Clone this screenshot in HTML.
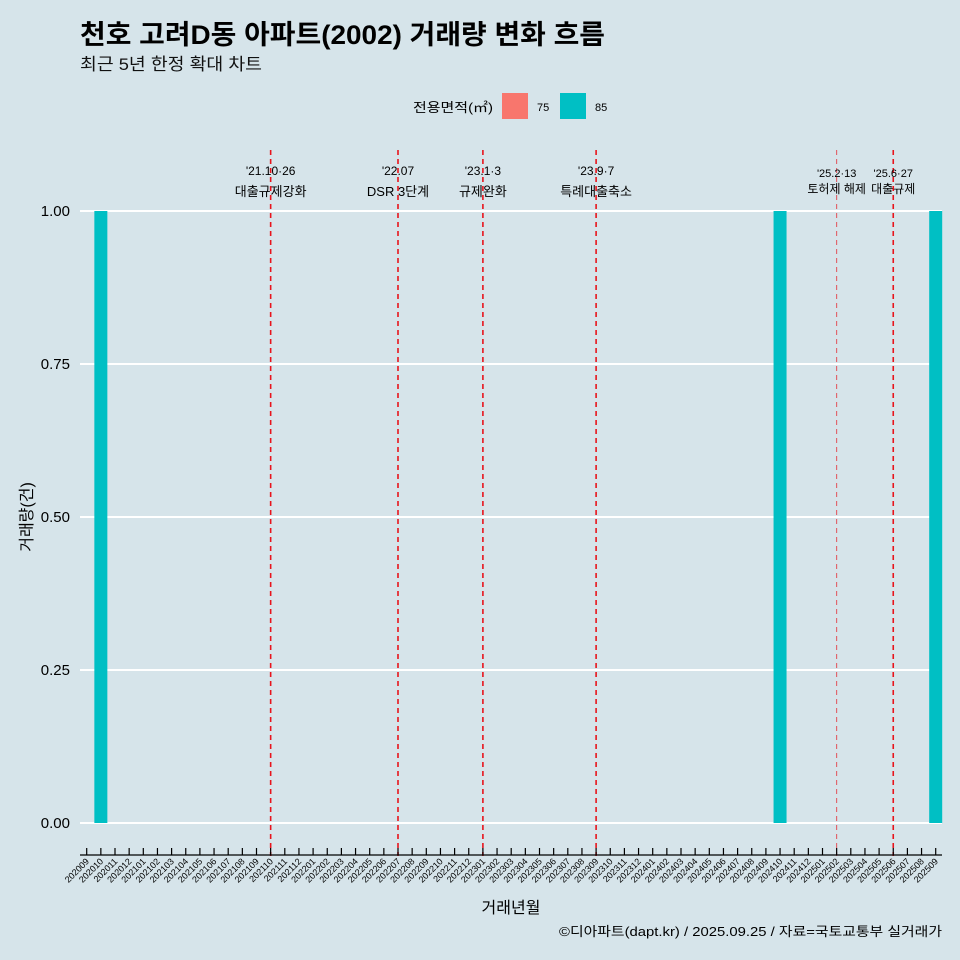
<!DOCTYPE html>
<html><head><meta charset="utf-8"><style>
html,body{margin:0;padding:0;width:960px;height:960px;overflow:hidden;background:#d6e4ea;font-family:"Liberation Sans","Noto Sans CJK KR",sans-serif;}
svg{display:block}
svg text{font-family:"Liberation Sans","Noto Sans CJK KR",sans-serif;}
</style></head><body>
<svg id="c" width="960" height="960" xmlns="http://www.w3.org/2000/svg">
<rect width="960" height="960" fill="#d6e4ea"/>
<text x="80" y="44" font-size="27" font-weight="bold" fill="#000" textLength="525" lengthAdjust="spacingAndGlyphs">천호 고려D동 아파트(2002) 거래량 변화 흐름</text>
<text x="80" y="70" font-size="17" fill="#111" textLength="182" lengthAdjust="spacingAndGlyphs">최근 5년 한정 확대 차트</text>
<g>
<text x="413" y="112" font-size="13" textLength="80" lengthAdjust="spacingAndGlyphs">전용면적(㎡)</text>
<rect x="502" y="93" width="26" height="26" fill="#f8766d"/>
<text x="537" y="111" font-size="11">75</text>
<rect x="560" y="93" width="26" height="26" fill="#00bfc4"/>
<text x="595" y="111" font-size="11">85</text>
</g>
<g id="grid"></g><g id="bars"></g><g id="events"></g><g id="xaxis"></g>
<text x="32" y="517" font-size="16" transform="rotate(-90 32 517)" text-anchor="middle">거래량(건)</text>
<text x="511" y="913" font-size="16" text-anchor="middle">거래년월</text>
<text x="559" y="936" font-size="13" textLength="383" lengthAdjust="spacingAndGlyphs">©디아파트(dapt.kr) / 2025.09.25 / 자료=국토교통부 실거래가</text>
</svg>
<script>
const months=[];for(let y=2020,m=9;!(y===2025&&m===10);){months.push(y+String(m).padStart(2,'0'));m++;if(m>12){m=1;y++;}}
const barMonths=["202010","202410","202509"];
const barValues=[1,1,1];
const yTicks=[0,0.25,0.5,0.75,1];
const yTickLabels=["0.00","0.25","0.50","0.75","1.00"];
const eventMonths=["202110","202207","202301","202309","202502","202506"];
const eventLine1=["'21.10·26","'22.07","'23.1·3","'23.9·7","'25.2·13","'25.6·27"];
const eventLine2=["대출규제강화","DSR 3단계","규제완화","특례대출축소","토허제 해제","대출규제"];
const NS="http://www.w3.org/2000/svg";
const xs=i=>86.7+i*14.15;
const ys=v=>823-v*612;
function mk(t,a,p){const e=document.createElementNS(NS,t);for(const k in a)e.setAttribute(k,a[k]);p.appendChild(e);return e;}
const grid=document.getElementById('grid');
yTicks.forEach((v,i)=>{
 const l=mk('line',{x1:80,x2:942,y1:ys(v),y2:ys(v),stroke:'#fff','stroke-width':2},grid);
 
 
 const t=mk('text',{x:70,y:ys(v)+5,'font-size':15,'text-anchor':'end'},grid);t.textContent=yTickLabels[i];
 
 
});
const bars=document.getElementById('bars');
barMonths.forEach((m,i)=>{
 const x=xs(months.indexOf(m));
 const r=mk('rect',{x:x-6.5,y:ys(barValues[i]),width:13,height:ys(0)-ys(barValues[i]),fill:'#00bfc4'},bars);
 
 
});
const ev=document.getElementById('events');
eventMonths.forEach((m,i)=>{
 const x=xs(months.indexOf(m));const thin=m==="202502";
 const l=mk('line',{x1:x,x2:x,y1:150,y2:856,stroke:'#e8141c','stroke-width':thin?1:1.6,'stroke-dasharray':'5,4',opacity:thin?0.7:1},ev);
 
 
 const small=m>="202502";
 const t1=mk('text',{x:x,y:small?177:175,'font-size':small?11:12,'text-anchor':'middle'},ev);t1.textContent=eventLine1[i];
 
 
 const t2=mk('text',{x:x,y:small?193:196,'font-size':small?12:13,'text-anchor':'middle'},ev);t2.textContent=eventLine2[i];
 
 
});
const xa=document.getElementById('xaxis');
const ax=mk('line',{x1:80,x2:942,y1:855,y2:855,stroke:'#000','stroke-width':1.2},xa);


months.forEach((m,i)=>{
 const x=xs(i);
 mk('line',{x1:x,x2:x,y1:848,y2:855,stroke:'#000','stroke-width':1.2},xa);
 const t=mk('text',{x:x+3,y:862,'font-size':9,'text-anchor':'end',transform:`rotate(-45 ${x+3} 862)`},xa);t.textContent=m;
 
 
});
</script>
</body></html>
